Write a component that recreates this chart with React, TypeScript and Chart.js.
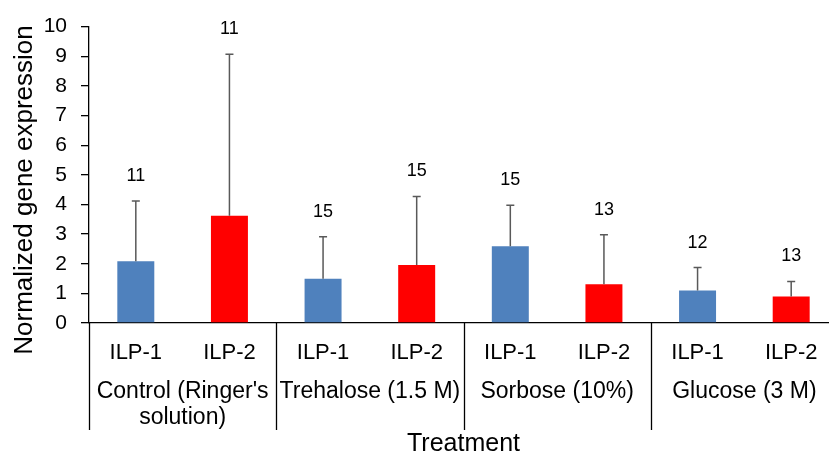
import React, { useEffect, useRef } from "react";
import { Chart, registerables } from "chart.js";

Chart.register(...registerables);

// ---- data ----
const categories = ["ILP-1", "ILP-2", "ILP-1", "ILP-2", "ILP-1", "ILP-2", "ILP-1", "ILP-2"];
const treatments: string[][] = [
  ["Control (Ringer's", "solution)"],
  ["Trehalose (1.5 M)"],
  ["Sorbose (10%)"],
  ["Glucose (3 M)"],
];
const meanValues = [2.08, 3.62, 1.49, 1.96, 2.59, 1.31, 1.1, 0.89];
const errorTops = [4.12, 9.07, 2.91, 4.27, 3.97, 2.98, 1.87, 1.4];
const sampleSizes = [11, 11, 15, 15, 15, 13, 12, 13];
const yTickMin = 0;
const yTickMax = 10;
const yTickStep = 1;
const xTitle = "Treatment";
const yTitle = "Normalized gene expression";

const FONT = "'Liberation Sans', Arial, sans-serif";
const BLUE = "#4F81BD";
const RED = "#FF0000";
const AXIS = "#000000";
const TEXT = "#000000";
const ERR = "#595959";

const W = 850;
const H = 461;

const annotationsPlugin = {
  id: "annotations",
  afterDatasetsDraw(chart: any) {
    const ctx = chart.ctx;
    const meta = chart.getDatasetMeta(0);
    const y = chart.scales.y;
    ctx.save();
    meta.data.forEach((bar: any, i: number) => {
      const top = y.getPixelForValue(errorTops[i]);
      ctx.strokeStyle = ERR;
      ctx.lineWidth = 1.5;
      ctx.beginPath();
      ctx.moveTo(bar.x, bar.y);
      ctx.lineTo(bar.x, top);
      ctx.moveTo(bar.x - 4, top);
      ctx.lineTo(bar.x + 4, top);
      ctx.stroke();
      ctx.fillStyle = TEXT;
      ctx.font = `18px ${FONT}`;
      ctx.textAlign = "center";
      ctx.textBaseline = "middle";
      ctx.fillText(String(sampleSizes[i]), bar.x, top - 25);
    });
    ctx.restore();
  },
  afterDraw(chart: any) {
    const ctx = chart.ctx;
    const x = chart.scales.x;
    const area = chart.chartArea;
    ctx.save();
    // group separators
    ctx.strokeStyle = AXIS;
    ctx.lineWidth = 1.3;
    const step = x.getPixelForValue(1) - x.getPixelForValue(0);
    for (let g = 0; g <= treatments.length; g++) {
      const idx = g * 2;
      const px = Math.round(x.getPixelForValue(idx) - step / 2) + 0.5;
      ctx.beginPath();
      ctx.moveTo(px, area.bottom);
      ctx.lineTo(px, area.bottom + 107);
      ctx.stroke();
    }
    // group labels
    ctx.fillStyle = TEXT;
    ctx.font = `23px ${FONT}`;
    ctx.textAlign = "center";
    ctx.textBaseline = "middle";
    treatments.forEach((lines, g) => {
      const cx = (x.getPixelForValue(g * 2) + x.getPixelForValue(g * 2 + 1)) / 2;
      lines.forEach((t, li) => {
        ctx.fillText(t, cx, area.bottom + 69 + li * 26);
      });
    });
    // y title
    ctx.font = `26px ${FONT}`;
    ctx.translate(25, 190);
    ctx.rotate(-Math.PI / 2);
    ctx.fillText(yTitle, 0, 0);
    ctx.restore();
  },
};

export default function App() {
  const ref = useRef<HTMLCanvasElement | null>(null);
  useEffect(() => {
    if (!ref.current) return;
    const chart = new Chart(ref.current, {
      type: "bar",
      data: {
        labels: categories,
        datasets: [
          {
            data: meanValues,
            backgroundColor: categories.map((_, i) => (i % 2 === 0 ? BLUE : RED)),
            barPercentage: 0.395,
            categoryPercentage: 1,
          },
        ],
      },
      options: {
        animation: false,
        responsive: false,
        devicePixelRatio: 1,
        layout: { padding: { left: 0, right: W - 838, top: 23, bottom: 0 } },
        plugins: { legend: { display: false }, tooltip: { enabled: false } },
        scales: {
          x: {
            grid: { display: false, drawTicks: false },
            border: { display: true, color: AXIS, width: 1.3 },
            ticks: {
              font: { family: FONT, size: 22 },
              color: TEXT,
              padding: 17,
              maxRotation: 0,
              autoSkip: false,
            },
            title: {
              display: true,
              text: xTitle,
              color: TEXT,
              font: { family: FONT, size: 25 },
              padding: { top: 0, bottom: 2 },
            },
            afterFit(scale: any) {
              scale.height = H - 323;
            },
          },
          y: {
            min: yTickMin,
            max: yTickMax,
            ticks: {
              stepSize: yTickStep,
              font: { family: FONT, size: 21 },
              color: TEXT,
              padding: 14,
            },
            grid: {
              drawOnChartArea: false,
              drawTicks: true,
              tickLength: 8,
              color: AXIS,
              lineWidth: 1.3,
            },
            border: { display: true, color: AXIS, width: 1.3 },
            afterFit(scale: any) {
              scale.width = 89;
            },
          },
        },
      },
      plugins: [annotationsPlugin],
    });
    return () => chart.destroy();
  }, []);
  return (
    <div
      style={{
        position: "fixed",
        left: 0,
        top: 0,
        width: 829,
        height: 461,
        overflow: "hidden",
        background: "#fff",
      }}
    >
      <canvas ref={ref} width={W} height={H} style={{ width: W, height: H, display: "block" }} />
    </div>
  );
}
